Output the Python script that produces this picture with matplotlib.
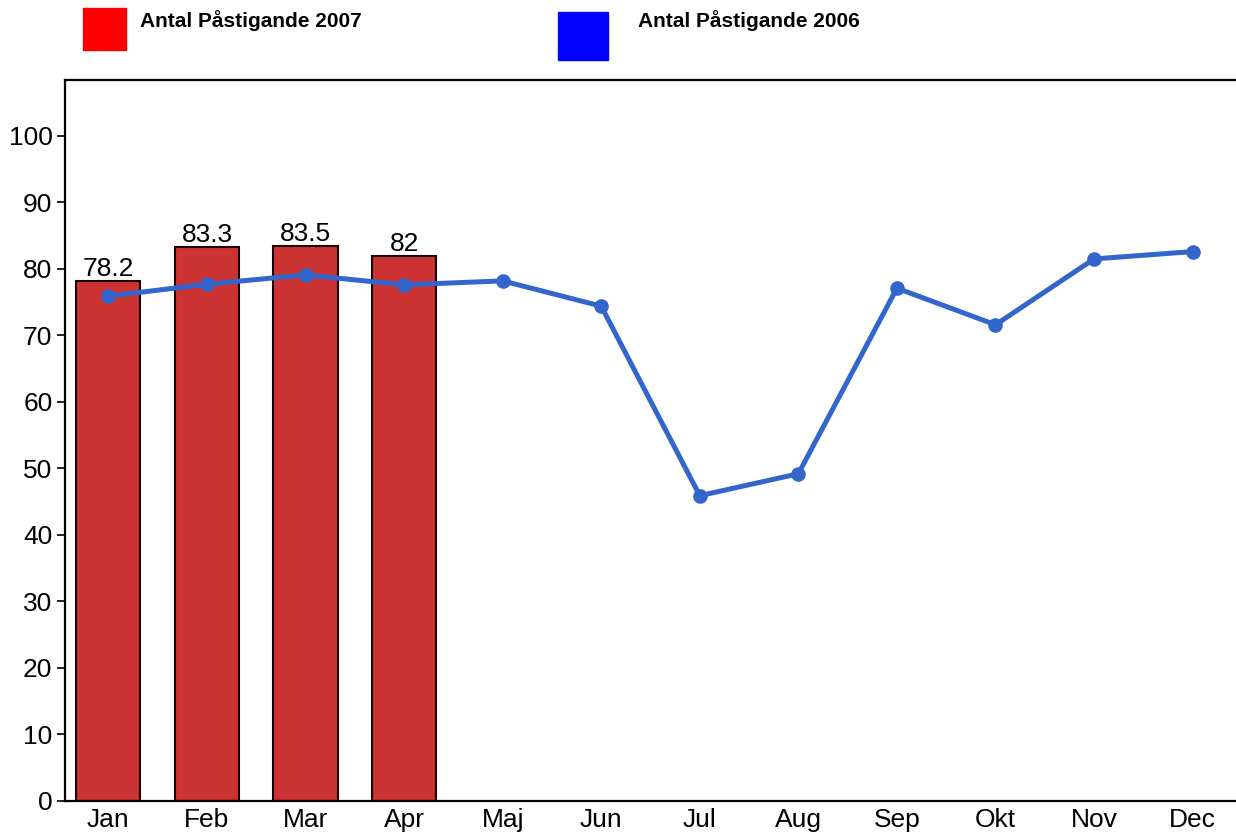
import matplotlib.pyplot as plt
from matplotlib.patches import Rectangle

plt.rcParams["font.family"] = ["Liberation Sans", "DejaVu Sans"]

months = ["Jan", "Feb", "Mar", "Apr", "Maj", "Jun", "Jul", "Aug", "Sep", "Okt", "Nov", "Dec"]
pax_2007 = [78.2, 83.3, 83.5, 82]
pax_2006 = [75.9, 77.7, 79.1, 77.6, 78.2, 74.4, 45.9, 49.2, 77.1, 71.6, 81.5, 82.6]
y_ticks = list(range(0, 101, 10))


def main():
    fig = plt.figure(figsize=(12.36, 8.39), dpi=100)
    ax = fig.add_axes([65 / 1236, 38 / 839, 1 - 65 / 1236, 721 / 839])

    x = list(range(len(months)))
    bars = ax.bar(x[:len(pax_2007)], pax_2007, width=0.65, color="#CC3333",
                  edgecolor="#1a0000", linewidth=1.5, zorder=2)
    ax.bar_label(bars, labels=[f"{v:g}" for v in pax_2007], fontsize=19, padding=0)
    ax.plot(x, pax_2006, color="#3366CC", linewidth=3.6, marker="o",
            markersize=9.5, zorder=3)

    ax.set_xlim(-0.44, 11.44)
    ax.set_ylim(0, 108.4)
    ax.set_yticks(y_ticks)
    ax.set_xticks(x)
    ax.set_xticklabels(months)
    ax.tick_params(axis="y", labelsize=19, length=6, width=1.2, pad=3)
    ax.tick_params(axis="x", labelsize=19, length=0, pad=5)
    ax.spines["right"].set_visible(False)
    for s in ["left", "top", "bottom"]:
        ax.spines[s].set_linewidth(1.6)

    # legend drawn in figure pixels
    fig.patches.append(Rectangle((83 / 1236, 1 - 50 / 839), 43 / 1236, 42 / 839,
                                 transform=fig.transFigure, color="#FF0000"))
    fig.patches.append(Rectangle((558 / 1236, 1 - 60 / 839), 50 / 1236, 48 / 839,
                                 transform=fig.transFigure, color="#0000FF"))
    fig.text(140 / 1236, 1 - 21 / 839, "Antal Påstigande 2007", fontsize=15,
             fontweight="bold", va="center")
    fig.text(638 / 1236, 1 - 21 / 839, "Antal Påstigande 2006", fontsize=15,
             fontweight="bold", va="center")

    fig.savefig("out.png", dpi=100)
    plt.close(fig)


if __name__ == "__main__":
    main()
